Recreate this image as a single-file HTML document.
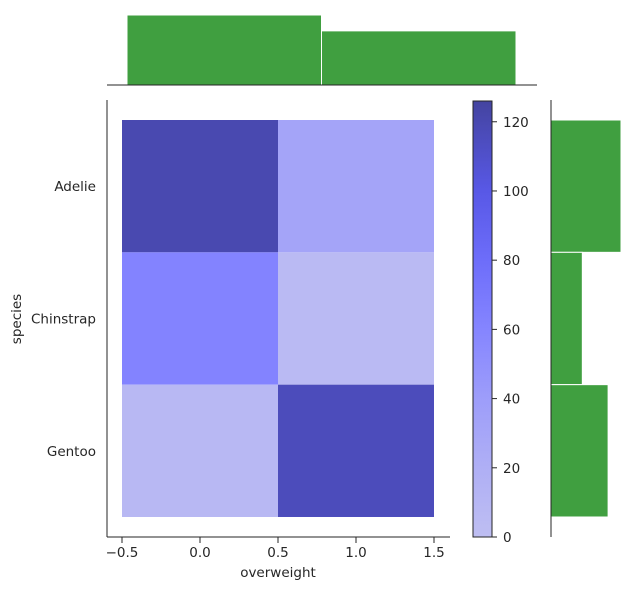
<!DOCTYPE html>
<html><head><meta charset="utf-8"><style>
body{margin:0;background:#fff;font-family:"Liberation Sans","DejaVu Sans",sans-serif;}
svg text{font-family:"DejaVu Sans","Liberation Sans",sans-serif;font-size:13.5px;fill:#262626;}
</style></head><body>
<svg id="c" width="634" height="590" xmlns="http://www.w3.org/2000/svg"></svg>
<script>
const species = ["Adelie","Chinstrap","Gentoo"];
const xCats = [0,1];
const counts0 = [120,62,8];   // overweight = 0
const counts1 = [32,6,116];   // overweight = 1
const xTicks = [-0.5,0,0.5,1,1.5];
const xTickLabels = ["\u22120.5","0.0","0.5","1.0","1.5"];
const cbTicks = [0,20,40,60,80,100,120];
const topCounts = [194,150];
const rightCounts = [152,68,124];

const svg = document.getElementById('c');
const NS = 'http://www.w3.org/2000/svg';
function el(t, a, txt){const e=document.createElementNS(NS,t);for(const k in a)e.setAttribute(k,a[k]);if(txt!==undefined)e.textContent=txt;svg.appendChild(e);return e;}

const X = v => 200 + v*156;
const rowTop = i => 120 + i*132.33;
const rowH = 132.33;
const vmax = 126;
const CB = v => 537 - v*(436/vmax);
const stops = [[0,[190,190,242]],[20,[175,175,245]],[40,[157,157,250]],[60,[133,133,255]],[80,[109,109,250]],[100,[88,88,230]],[126,[68,68,160]]];
function col(v){for(let i=0;i<stops.length-1;i++){const [a,ca]=stops[i],[b,cb]=stops[i+1];if(v<=b){const t=(v-a)/(b-a);return 'rgb('+ca.map((c,j)=>Math.round(c+(cb[j]-c)*t)).join(',')+')';}}return 'rgb(68,68,160)';}

[counts0,counts1].forEach((arr,xi)=>{arr.forEach((v,si)=>{
  const r=el('rect',{x:X(xCats[xi]-0.5),y:rowTop(si),width:156,height:rowH,fill:col(v)});
  
  
});});

el('line',{x1:107,y1:100,x2:107,y2:537,stroke:'#262626','stroke-width':1,});
el('line',{x1:107,y1:537,x2:450,y2:537,stroke:'#262626','stroke-width':1,});
xTicks.forEach((t,i)=>{
  el('line',{x1:X(t),y1:537,x2:X(t),y2:543,stroke:'#262626'});
  const tx=el('text',{x:X(t),y:557,'text-anchor':'middle'},xTickLabels[i]);
  
  
});
species.forEach((s,i)=>{
  const y=rowTop(i)+rowH/2;
  const tx=el('text',{x:96,y:y+5,'text-anchor':'end'},s);
  
  
});
el('text',{x:278,y:577,'text-anchor':'middle',},'overweight');
el('text',{x:21,y:319,'text-anchor':'middle',transform:'rotate(-90 21 319)',},'species');

const defs=el('defs',{});
const lg=document.createElementNS(NS,'linearGradient');lg.setAttribute('id','g');lg.setAttribute('x1','0');lg.setAttribute('y1','1');lg.setAttribute('x2','0');lg.setAttribute('y2','0');defs.appendChild(lg);
stops.forEach(([v,c])=>{const s=document.createElementNS(NS,'stop');s.setAttribute('offset',v/vmax);s.setAttribute('stop-color','rgb('+c.join(',')+')');lg.appendChild(s);});
el('rect',{x:473,y:101,width:19,height:436,fill:'url(#g)',stroke:'#262626','stroke-width':1,});
cbTicks.forEach(t=>{
  el('line',{x1:492,y1:CB(t),x2:497,y2:CB(t),stroke:'#262626'});
  const tx=el('text',{x:503,y:CB(t)+5},String(t));
  
  
});

const TY = v => 85 - v*(70/194);
const topEdges=[127,321.5,516];
topCounts.forEach((v,i)=>{
  const r=el('rect',{x:topEdges[i],y:TY(v),width:topEdges[i+1]-topEdges[i],height:85-TY(v),fill:'#409f40',stroke:'#fff','stroke-width':1});
  
  
});
el('line',{x1:107,y1:85,x2:537,y2:85,stroke:'#262626',});

const RX = v => v*(70/152);
rightCounts.forEach((v,i)=>{
  const r=el('rect',{x:551,y:rowTop(i),width:RX(v),height:rowH,fill:'#409f40',stroke:'#fff','stroke-width':1});
  
  
});
el('line',{x1:551,y1:100,x2:551,y2:537,stroke:'#262626',});
</script>
</body></html>
